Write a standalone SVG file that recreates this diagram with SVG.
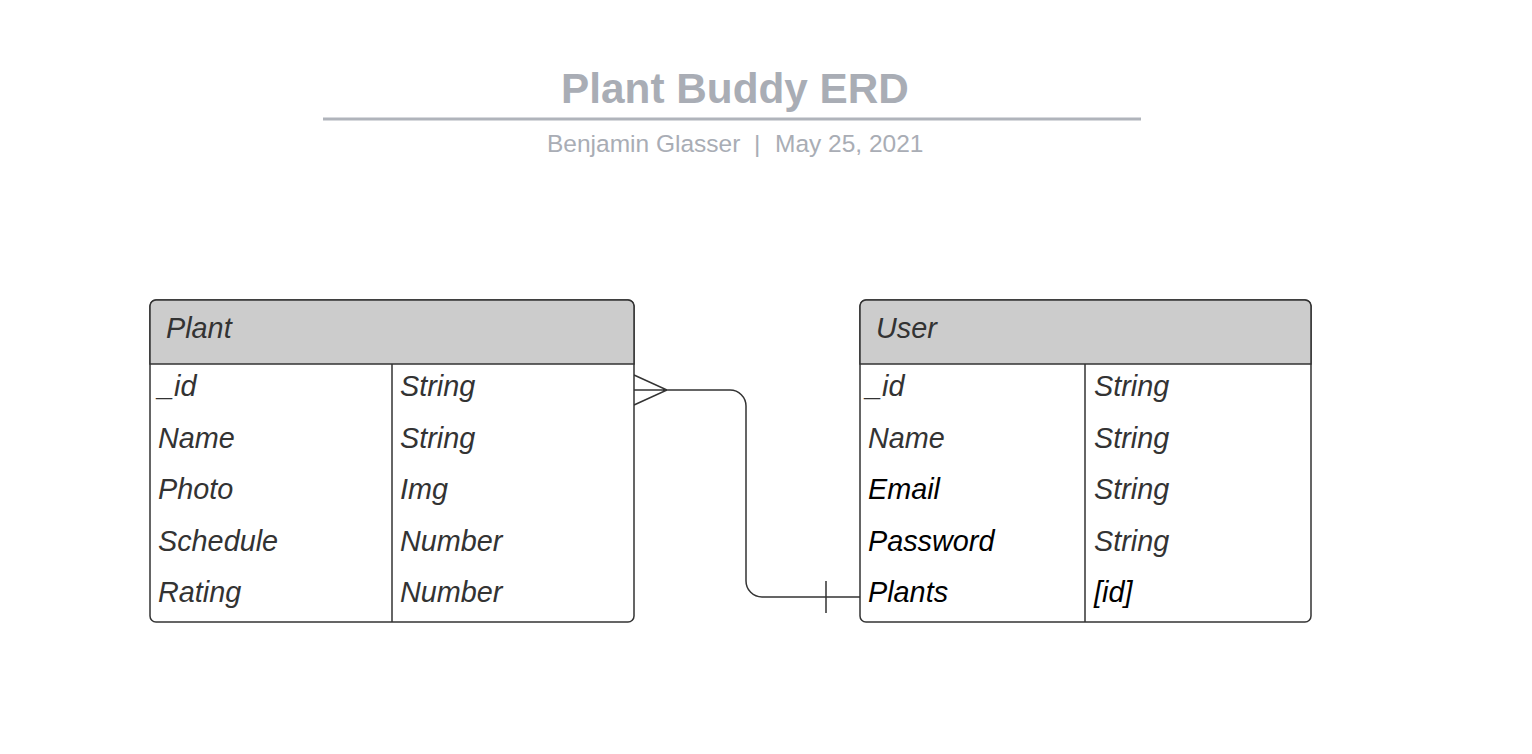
<svg xmlns="http://www.w3.org/2000/svg" width="1532" height="754" viewBox="0 0 1532 754">
<style>
.t{font-family:"Liberation Sans",Arial,sans-serif;font-style:italic;font-size:28.8px;fill:#333}
.k{fill:#000}
.box{fill:#fff;stroke:#333;stroke-width:1.5}
.hd{fill:#ccc;stroke:#333;stroke-width:1.5}
.ln{stroke:#333;stroke-width:1.5;fill:none}
.title{font-family:"Liberation Sans",Arial,sans-serif;font-weight:bold;font-size:42.3px;fill:#a9adb5}
.sub{font-family:"Liberation Sans",Arial,sans-serif;font-size:24.5px;fill:#a9adb5}
</style>
<rect width="1532" height="754" fill="#fff"/>
<g id="title">
<text class="title" x="735" y="103" text-anchor="middle">Plant Buddy ERD</text>
<line x1="323" y1="119" x2="1141" y2="119" stroke="#b0b4bb" stroke-width="3"/>
<text class="sub" y="152"><tspan x="547">Benjamin Glasser</tspan><tspan x="754">|</tspan><tspan x="775">May 25, 2021</tspan></text>
</g>
<g id="connectors">
<path class="ln" d="M634,375 L667,390 L634,405 M634,390 L730,390 A16,16 0 0 1 746,406 L746,581 A16,16 0 0 0 762,597 L860,597 M826,581 L826,613"/>
</g>
<g id="plant">
<rect class="box" x="150" y="300" width="484" height="322" rx="6"/>
<path class="hd" d="M150,364 L150,306 A6,6 0 0 1 156,300 L628,300 A6,6 0 0 1 634,306 L634,364 Z"/>
<line class="ln" x1="392" y1="364" x2="392" y2="622"/>
<text class="t" x="166" y="338">Plant</text>
<text class="t" x="158" y="396">_id</text>
<text class="t" x="158" y="447.5">Name</text>
<text class="t" x="158" y="499">Photo</text>
<text class="t" x="158" y="550.5">Schedule</text>
<text class="t" x="158" y="602">Rating</text>
<text class="t" x="400" y="396">String</text>
<text class="t" x="400" y="447.5">String</text>
<text class="t" x="400" y="499">Img</text>
<text class="t" x="400" y="550.5">Number</text>
<text class="t" x="400" y="602">Number</text>
</g>
<g id="user">
<rect class="box" x="860" y="300" width="451" height="322" rx="6"/>
<path class="hd" d="M860,364 L860,306 A6,6 0 0 1 866,300 L1305,300 A6,6 0 0 1 1311,306 L1311,364 Z"/>
<line class="ln" x1="1085" y1="364" x2="1085" y2="622"/>
<text class="t" x="876" y="338">User</text>
<text class="t" x="866" y="396">_id</text>
<text class="t" x="868" y="447.5">Name</text>
<text class="t k" x="868" y="499">Email</text>
<text class="t k" x="868" y="550.5">Password</text>
<text class="t k" x="868" y="602">Plants</text>
<text class="t" x="1094" y="396">String</text>
<text class="t" x="1094" y="447.5">String</text>
<text class="t" x="1094" y="499">String</text>
<text class="t" x="1094" y="550.5">String</text>
<text class="t k" x="1094" y="602">[id]</text>
</g>
</svg>
